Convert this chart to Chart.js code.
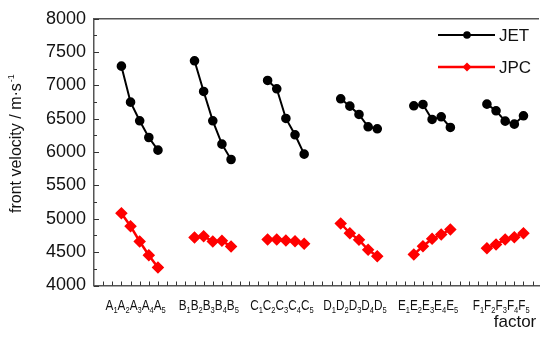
<!DOCTYPE html>
<html>
<head>
<meta charset="utf-8">
<script src="https://cdn.jsdelivr.net/npm/chart.js@4.4.1/dist/chart.umd.min.js"></script>
<style>
html,body{margin:0;padding:0;background:#fff;overflow:hidden;}
canvas{display:block;}
</style>
</head>
<body>
<canvas id="c" width="546" height="343"></canvas>
<script>
// ---- data ----
const groups = ['A','B','C','D','E','F'];
const levels = [1,2,3,4,5];
const JET = [7290,6750,6470,6220,6030, 7370,6910,6470,6120,5890, 7075,6950,6505,6260,5970, 6800,6690,6565,6380,6350, 6695,6715,6490,6530,6370, 6720,6620,6465,6420,6545];
const JPC = [5085,4890,4660,4455,4270, 4720,4740,4660,4670,4585, 4690,4690,4675,4665,4625, 4930,4785,4685,4535,4440, 4465,4590,4700,4765,4840, 4560,4615,4690,4725,4785];
const yMin = 4000, yMax = 8000, yStep = 500;
const seriesNames = ['JET','JPC'];
const xLabel = 'factor';
const yLabel = 'front velocity / m·s';
const yLabelSup = '-1';

// position along the x axis: 3 empty slots before each group of 5
function slot(g, i){ return 3 + g*8 + i; }
function build(vals){
  const out = [];
  groups.forEach((g, gi) => {
    levels.forEach((l, li) => out.push({x: slot(gi, li), y: vals[gi*levels.length + li]}));
    out.push({x: slot(gi, levels.length) + 1, y: null});
  });
  return out;
}

const AXIS = '#555';
const FONT = '"Liberation Sans", Arial, sans-serif';

const decor = {
  id: 'decor',
  afterDraw(chart){
    const ctx = chart.ctx, a = chart.chartArea;
    const xs = chart.scales.x, ys = chart.scales.y;
    ctx.save();
    // top border
    ctx.strokeStyle = AXIS; ctx.lineWidth = 1.5;
    ctx.beginPath(); ctx.moveTo(a.left, a.top); ctx.lineTo(a.right, a.top); ctx.stroke();
    // inward ticks y
    ctx.lineWidth = 1; ctx.strokeStyle = '#333';
    for (let v = yMin; v <= yMax; v += yStep/2){
      const py = Math.round(ys.getPixelForValue(v)) + 0.5;
      const len = (v % yStep === 0) ? 5 : 3;
      ctx.beginPath(); ctx.moveTo(a.left, py); ctx.lineTo(a.left + len, py); ctx.stroke();
    }
    // inward ticks x
    for (let k = 1; k <= Math.floor(xs.max); k++){
      const px = Math.round(xs.getPixelForValue(k)) + 0.5;
      ctx.beginPath(); ctx.moveTo(px, a.bottom); ctx.lineTo(px, a.bottom - 4); ctx.stroke();
    }
    // group labels with subscripts
    ctx.fillStyle = '#111';
    ctx.textBaseline = 'alphabetic';
    const cond = 0.84;
    groups.forEach((g, gi) => {
      const big = '14px ' + FONT;
      const small = '9px ' + FONT;
      ctx.font = big; const wb = ctx.measureText(g).width;
      ctx.font = small; const ws = ctx.measureText('1').width;
      const total = (wb + ws) * levels.length * cond;
      const cx = xs.getPixelForValue(slot(gi, 2)) - 4;
      ctx.save();
      ctx.translate(cx - total/2, 310);
      ctx.scale(cond, 1);
      let x = 0;
      levels.forEach(l => {
        ctx.font = big; ctx.fillText(g, x, 0); x += wb;
        ctx.font = small; ctx.fillText(String(l), x, 3); x += ws;
      });
      ctx.restore();
    });
    // x title
    ctx.font = '17px ' + FONT;
    ctx.textAlign = 'center';
    ctx.fillText(xLabel, 515, 327);
    // y title
    ctx.save();
    ctx.translate(21, 213);
    ctx.rotate(-Math.PI/2);
    ctx.textAlign = 'left';
    ctx.font = '16px ' + FONT;
    ctx.fillText(yLabel, 0, 0);
    const w = ctx.measureText(yLabel).width;
    ctx.font = '9px ' + FONT;
    ctx.fillText(yLabelSup, w + 1, -7);
    ctx.restore();
    // legend
    const items = chart.data.datasets;
    const ly = [35, 67];
    items.forEach((ds, i) => {
      ctx.strokeStyle = ds.borderColor; ctx.lineWidth = ds.borderWidth;
      ctx.beginPath(); ctx.moveTo(438, ly[i]); ctx.lineTo(495, ly[i]); ctx.stroke();
      ctx.fillStyle = ds.pointBackgroundColor;
      ctx.beginPath();
      const r = ds.pointRadius;
      if (ds.pointStyle === 'rectRot'){
        ctx.moveTo(467, ly[i]-r); ctx.lineTo(467+r, ly[i]); ctx.lineTo(467, ly[i]+r); ctx.lineTo(467-r, ly[i]); ctx.closePath();
      } else {
        ctx.arc(467, ly[i], r, 0, Math.PI*2);
      }
      ctx.fill();
      ctx.fillStyle = '#111';
      ctx.font = '17px ' + FONT;
      ctx.textAlign = 'left'; ctx.textBaseline = 'middle';
      ctx.fillText(ds.label, 499, ly[i] + 1);
    });
    ctx.restore();
  }
};

new Chart(document.getElementById('c'), {
  type: 'line',
  data: {
    datasets: [
      { label: seriesNames[0], data: build(JET), borderColor: '#000', backgroundColor: '#000',
        pointBackgroundColor: '#000', pointBorderColor: '#000', borderWidth: 2, pointRadius: 3.8,
        pointStyle: 'circle', spanGaps: false, tension: 0 },
      { label: seriesNames[1], data: build(JPC), borderColor: '#ff0000', backgroundColor: '#ff0000',
        pointBackgroundColor: '#ff0000', pointBorderColor: '#ff0000', borderWidth: 2.5, pointRadius: 4.5,
        pointStyle: 'rectRot', spanGaps: false, tension: 0 }
    ]
  },
  options: {
    responsive: false,
    animation: false,
    events: [],
    layout: { padding: { top: 16, right: 0, bottom: 0, left: 0 } },
    plugins: { legend: { display: false }, tooltip: { enabled: false } },
    scales: {
      x: {
        type: 'linear', min: 0, max: 48.7,
        grid: { display: false, drawTicks: false },
        border: { display: true, color: AXIS, width: 1.5 },
        ticks: { display: false },
        afterFit(s){ s.height = 57.5; }
      },
      y: {
        min: yMin, max: yMax,
        grid: { display: false, drawTicks: false },
        border: { display: true, color: AXIS, width: 1.5 },
        ticks: { stepSize: yStep, padding: 8, color: '#111',
                 callback: v => String(v),
                 font: { size: 18, family: FONT } },
        afterFit(s){ s.width = 94; }
      }
    }
  },
  plugins: [decor]
});
</script>
</body>
</html>
